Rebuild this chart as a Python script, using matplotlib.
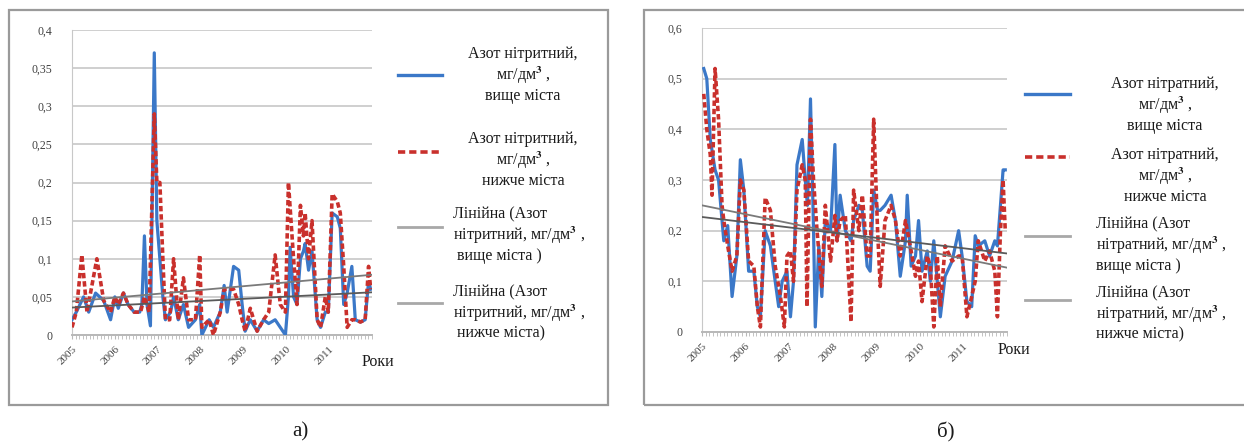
import numpy as np
import matplotlib
matplotlib.use('Agg')
import matplotlib.pyplot as plt
from matplotlib.patches import Rectangle
from matplotlib.lines import Line2D
from matplotlib.ticker import FuncFormatter, MultipleLocator

plt.rcParams['font.family'] = ['Liberation Serif', 'DejaVu Serif']
plt.rcParams['mathtext.fontset'] = 'stix'

# --- data: a) nitrite nitrogen, mg/dm3 -------------------------------------
a_up_years = [2005.00, 2005.10, 2005.27, 2005.39, 2005.55, 2005.74, 2005.90, 2006.00,
              2006.08, 2006.20, 2006.31, 2006.45, 2006.58, 2006.63, 2006.69, 2006.75,
              2006.83, 2006.92, 2006.98, 2007.05, 2007.12, 2007.18, 2007.30, 2007.37,
              2007.48, 2007.60, 2007.72, 2007.88, 2007.98, 2008.03, 2008.20, 2008.30,
              2008.46, 2008.55, 2008.62, 2008.77, 2008.89, 2008.97, 2009.04, 2009.16,
              2009.32, 2009.47, 2009.59, 2009.74, 2009.86, 2009.98, 2010.05, 2010.09,
              2010.17, 2010.25, 2010.33, 2010.40, 2010.44, 2010.52, 2010.60, 2010.72,
              2010.80, 2010.91, 2010.98, 2011.07, 2011.19, 2011.26, 2011.34, 2011.42,
              2011.53, 2011.61, 2011.73, 2011.84, 2011.92, 2011.97]
a_up = [0.02, 0.03, 0.05, 0.03, 0.055, 0.045, 0.02, 0.05,
        0.035, 0.055, 0.04, 0.03, 0.03, 0.04, 0.13, 0.04,
        0.012, 0.37, 0.15, 0.10, 0.05, 0.02, 0.03, 0.05,
        0.02, 0.04, 0.01, 0.02, 0.04, 0.0, 0.02, 0.01,
        0.03, 0.065, 0.03, 0.09, 0.085, 0.04, 0.005, 0.02,
        0.005, 0.02, 0.015, 0.02, 0.01, 0.0, 0.05, 0.115,
        0.05, 0.04, 0.10, 0.11, 0.12, 0.085, 0.11, 0.02,
        0.01, 0.03, 0.03, 0.16, 0.155, 0.14, 0.04, 0.055,
        0.09, 0.02, 0.017, 0.02, 0.07, 0.06]

a_down_years = [2005.00, 2005.10, 2005.23, 2005.35, 2005.58, 2005.74, 2005.90, 2006.00,
                2006.08, 2006.20, 2006.31, 2006.45, 2006.60, 2006.69, 2006.80, 2006.92,
                2006.98, 2007.05, 2007.12, 2007.18, 2007.28, 2007.37, 2007.48, 2007.60,
                2007.72, 2007.88, 2007.98, 2008.03, 2008.20, 2008.30, 2008.46, 2008.55,
                2008.77, 2008.89, 2008.97, 2009.04, 2009.16, 2009.32, 2009.47, 2009.59,
                2009.74, 2009.86, 2009.98, 2010.05, 2010.17, 2010.25, 2010.33, 2010.40,
                2010.44, 2010.52, 2010.60, 2010.72, 2010.80, 2010.91, 2010.98, 2011.07,
                2011.19, 2011.26, 2011.34, 2011.42, 2011.53, 2011.61, 2011.73, 2011.84,
                2011.92, 2011.97]
a_down = [0.01, 0.03, 0.105, 0.03, 0.10, 0.045, 0.03, 0.05,
          0.04, 0.055, 0.04, 0.03, 0.03, 0.05, 0.03, 0.29,
          0.20, 0.20, 0.10, 0.02, 0.02, 0.10, 0.02, 0.075,
          0.02, 0.02, 0.105, 0.01, 0.02, 0.0, 0.03, 0.06,
          0.06, 0.04, 0.02, 0.005, 0.035, 0.005, 0.02, 0.03,
          0.105, 0.04, 0.03, 0.20, 0.10, 0.04, 0.17, 0.13,
          0.16, 0.10, 0.15, 0.02, 0.01, 0.05, 0.03, 0.185,
          0.175, 0.16, 0.09, 0.01, 0.02, 0.02, 0.017, 0.02,
          0.09, 0.06]

# linear trend lines, values at 2005 and 2012
a_trend_up = [0.044, 0.079]
a_trend_down = [0.036, 0.056]

# --- data: б) nitrate nitrogen, mg/dm3 -------------------------------------
b_up_years = [2005.04, 2005.11, 2005.19, 2005.30, 2005.38, 2005.50, 2005.59, 2005.69,
              2005.80, 2005.88, 2005.96, 2006.07, 2006.19, 2006.27, 2006.34, 2006.45,
              2006.57, 2006.68, 2006.76, 2006.84, 2006.95, 2007.03, 2007.10, 2007.18,
              2007.30, 2007.37, 2007.42, 2007.49, 2007.56, 2007.60, 2007.68, 2007.75,
              2007.83, 2007.95, 2008.05, 2008.10, 2008.17, 2008.29, 2008.42, 2008.48,
              2008.60, 2008.68, 2008.79, 2008.86, 2008.94, 2009.03, 2009.09, 2009.20,
              2009.34, 2009.44, 2009.55, 2009.67, 2009.71, 2009.80, 2009.90, 2009.97,
              2010.05, 2010.17, 2010.24, 2010.32, 2010.47, 2010.58, 2010.74, 2010.89,
              2010.97, 2011.08, 2011.19, 2011.27, 2011.34, 2011.49, 2011.60, 2011.72,
              2011.78, 2011.85, 2011.91, 2011.96]
b_up = [0.52, 0.50, 0.38, 0.32, 0.30, 0.18, 0.21, 0.07,
        0.15, 0.34, 0.28, 0.12, 0.12, 0.05, 0.03, 0.20,
        0.17, 0.10, 0.05, 0.10, 0.12, 0.03, 0.10, 0.33,
        0.38, 0.30, 0.25, 0.46, 0.20, 0.01, 0.17, 0.07,
        0.22, 0.20, 0.37, 0.18, 0.27, 0.20, 0.18, 0.22,
        0.25, 0.24, 0.13, 0.12, 0.28, 0.24, 0.24, 0.25,
        0.27, 0.22, 0.11, 0.18, 0.27, 0.13, 0.15, 0.22,
        0.12, 0.16, 0.10, 0.18, 0.03, 0.11, 0.14, 0.20,
        0.15, 0.06, 0.05, 0.19, 0.17, 0.18, 0.15, 0.18,
        0.17, 0.25, 0.32, 0.32]

b_down_years = [2005.04, 2005.11, 2005.19, 2005.23, 2005.30, 2005.38, 2005.46, 2005.50,
                2005.59, 2005.69, 2005.80, 2005.88, 2005.96, 2006.07, 2006.19, 2006.27,
                2006.34, 2006.45, 2006.57, 2006.68, 2006.80, 2006.89, 2006.95, 2007.03,
                2007.10, 2007.18, 2007.30, 2007.37, 2007.41, 2007.49, 2007.56, 2007.64,
                2007.75, 2007.83, 2007.95, 2008.05, 2008.10, 2008.17, 2008.29, 2008.42,
                2008.48, 2008.60, 2008.68, 2008.79, 2008.86, 2008.94, 2009.03, 2009.09,
                2009.20, 2009.34, 2009.44, 2009.55, 2009.67, 2009.80, 2009.90, 2009.97,
                2010.05, 2010.17, 2010.24, 2010.32, 2010.40, 2010.47, 2010.58, 2010.74,
                2010.89, 2010.97, 2011.08, 2011.19, 2011.27, 2011.34, 2011.49, 2011.60,
                2011.72, 2011.78, 2011.85, 2011.91, 2011.96]
b_down = [0.47, 0.40, 0.35, 0.27, 0.52, 0.42, 0.25, 0.22,
          0.17, 0.12, 0.15, 0.30, 0.28, 0.14, 0.13, 0.05,
          0.01, 0.265, 0.24, 0.13, 0.07, 0.01, 0.15, 0.16,
          0.10, 0.28, 0.33, 0.30, 0.05, 0.42, 0.30, 0.20,
          0.09, 0.25, 0.14, 0.23, 0.18, 0.22, 0.23, 0.02,
          0.28, 0.20, 0.27, 0.15, 0.15, 0.42, 0.20, 0.09,
          0.22, 0.25, 0.22, 0.15, 0.22, 0.16, 0.11, 0.14,
          0.06, 0.15, 0.13, 0.01, 0.15, 0.05, 0.17, 0.14,
          0.15, 0.15, 0.03, 0.07, 0.10, 0.18, 0.14, 0.16,
          0.12, 0.03, 0.20, 0.30, 0.20]

b_trend_up = [0.250, 0.127]
b_trend_down = [0.227, 0.155]

year_labels = ['2005', '2006', '2007', '2008', '2009', '2010', '2011']

a_labels = ['Азот нітритний,\nмг/дм$^{\\mathbf{3}}$ ,\nвище міста',
            'Азот нітритний,\nмг/дм$^{\\mathbf{3}}$ ,\nнижче міста',
            'Лінійна (Азот\nнітритний, мг/дм$^{\\mathbf{3}}$ ,\n вище міста )',
            'Лінійна (Азот\nнітритний, мг/дм$^{\\mathbf{3}}$ ,\n нижче міста)']
b_labels = ['Азот нітратний,\nмг/дм$^{\\mathbf{3}}$ ,\nвище міста',
            'Азот нітратний,\nмг/дм$^{\\mathbf{3}}$ ,\nнижче міста',
            'Лінійна (Азот\nнітратний, мг/дм$^{\\mathbf{3}}$ ,\nвище міста )',
            'Лінійна (Азот\nнітратний, мг/дм$^{\\mathbf{3}}$ ,\nнижче міста)']

BLUE = '#3b78c8'
RED = '#c9302c'
TREND = '#7a7a7a'
W, H = 1244, 446

fig = plt.figure(figsize=(W / 100, H / 100), dpi=100)


def px(x, y):
    # pixel coords (top-left origin) -> figure fraction
    return x / W, 1 - y / H


def comma_fmt(v, pos):
    s = '%g' % round(v, 3)
    return s.replace('.', ',')


def panel(rect, ymax, ystep, up_x, up_y, dn_x, dn_y, tr_up, tr_dn):
    x0, y0, x1, y1 = rect
    ax = fig.add_axes([x0 / W, 1 - y1 / H, (x1 - x0) / W, (y1 - y0) / H])
    ax.plot(up_x, up_y, color=BLUE, lw=2.3, zorder=3)
    ax.plot(dn_x, dn_y, color=RED, lw=2.6, dashes=(1.5, 0.8), zorder=4)
    ax.plot([2005, 2012], tr_up, color=TREND, lw=1.3, zorder=5)
    ax.plot([2005, 2012], tr_dn, color='#5a5a5a', lw=1.3, zorder=5)
    ax.set_xlim(2005, 2012)
    ax.set_ylim(0, ymax)
    ax.yaxis.set_major_locator(MultipleLocator(ystep))
    ax.yaxis.set_major_formatter(FuncFormatter(comma_fmt))
    ax.grid(axis='y', color='#cfcfcf', lw=1.4)
    ax.set_axisbelow(True)
    for s in ['top', 'right']:
        ax.spines[s].set_visible(False)
    ax.spines['left'].set_color('#c8c8c8')
    ax.spines['bottom'].set_color('#b8b8b8')
    ax.spines['bottom'].set_linewidth(1.4)
    ax.set_xticks(np.arange(2005, 2012))
    ax.set_xticklabels(year_labels, rotation=45, ha='right', va='top',
                       rotation_mode='anchor', fontsize=8, color='#404040')
    ax.xaxis.set_minor_locator(MultipleLocator(1 / 12))
    ax.tick_params(axis='x', which='both', length=3, color='#b8b8b8', pad=4)
    ax.tick_params(axis='y', length=0, pad=14, labelsize=8.5, labelcolor='#404040')
    return ax


def legend(handle_x, handles, texts, centered):
    for (hy, ty), style, txt, cen in zip(handles, [(BLUE, '-', 2.4), (RED, '--', 2.6),
                                                   ('#a8a8a8', '-', 2.0), ('#a8a8a8', '-', 2.0)],
                                         texts, centered):
        xa, ya = px(handle_x[0], hy)
        xb, _ = px(handle_x[1], hy)
        ln = Line2D([xa, xb], [ya, ya], transform=fig.transFigure, color=style[0],
                    ls=style[1], lw=style[2])
        if style[1] == '--':
            ln.set_dashes((2.0, 1.1))
        fig.add_artist(ln)
        tx, tyy = px(cen[0], ty)
        fig.text(tx, tyy, txt, ha=cen[1], va='center', ma=cen[1], fontsize=11.5,
                 color='#1a1a1a', linespacing=1.15)


# frames
fig.add_artist(Rectangle(px(9, 405), 599 / W, 395 / H, transform=fig.transFigure,
                         fill=False, ec='#9a9a9a', lw=1.6))
fig.add_artist(Rectangle(px(644, 405), 620 / W, 395 / H, transform=fig.transFigure,
                         fill=False, ec='#9a9a9a', lw=1.6))

panel((72, 30, 372, 335), 0.4, 0.05, a_up_years, a_up, a_down_years, a_down,
      a_trend_up, a_trend_down)
panel((702, 28, 1007, 332), 0.6, 0.1, b_up_years, b_up, b_down_years, b_down,
      b_trend_up, b_trend_down)

legend((398, 442), [(75, 75), (152, 160), (227, 235), (303, 313)], a_labels,
       [(523, 'center'), (523, 'center'), (453, 'left'), (453, 'left')])
legend((1025, 1070), [(94, 105), (157, 176), (236, 245), (300, 314)], b_labels,
       [(1165, 'center'), (1165, 'center'), (1096, 'left'), (1096, 'left')])

fig.text(*px(362, 362), 'Роки', ha='left', va='center', fontsize=11.5, color='#1a1a1a')
fig.text(*px(998, 350), 'Роки', ha='left', va='center', fontsize=11.5, color='#1a1a1a')
fig.text(*px(300, 432), 'а)', ha='center', va='center', fontsize=15, color='#1a1a1a')
fig.text(*px(946, 432), 'б)', ha='center', va='center', fontsize=15, color='#1a1a1a')

fig.savefig('out.png', dpi=100)
